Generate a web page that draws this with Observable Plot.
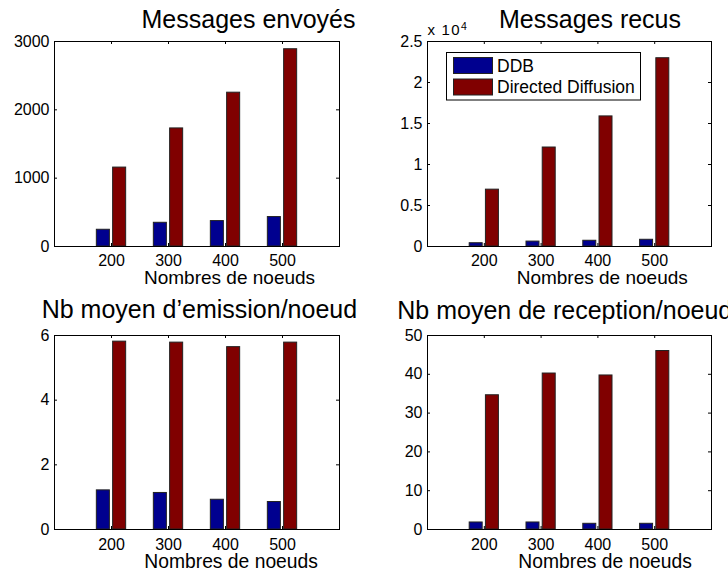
<!DOCTYPE html>
<html><head><meta charset="utf-8">
<script src="https://cdn.jsdelivr.net/npm/d3@7"></script>
<script src="https://cdn.jsdelivr.net/npm/@observablehq/plot@0.6"></script>
<style>
body{margin:0;background:#fff;}
#fig{position:relative;width:728px;height:574px;overflow:hidden;font-family:"Liberation Sans",Arial,Helvetica,sans-serif;background:#fff;}
#fig > svg{position:absolute;}
</style></head><body><div id="fig"></div>
<script>
// ---- data ----
const nodes = [200, 300, 400, 500];
const seriesNames = ["DDB", "Directed Diffusion"];
const colors = ["#00008F", "#800000"];
const sentDDB = [245, 347, 372, 431];
const sentDD = [1155, 1728, 2251, 2887];
const recvDDB = [400, 600, 700, 820];
const recvDD = [6933, 12072, 15865, 22961];
const emitDDB = [1.21, 1.13, 0.92, 0.85];
const emitDD = [5.81, 5.78, 5.64, 5.78];
const recpDDB = [1.81, 1.81, 1.47, 1.47];
const recpDD = [34.6, 40.2, 39.7, 46.0];
const titles = ["Messages envoyés", "Messages recus", "Nb moyen d\u2019emission/noeud", "Nb moyen de reception/noeud"];
const xLabel = "Nombres de noeuds";
const yTicks1 = [0, 1000, 2000, 3000];
const yTicks2 = [0, 5000, 10000, 15000, 20000, 25000];
const yTickLabels2 = ["0", "0.5", "1", "1.5", "2", "2.5"];
const yTicks3 = [0, 2, 4, 6];
const yTicks4 = [0, 10, 20, 30, 40, 50];
const exponentLabel = "x 10";
const exponentPower = "4";

// MATLAB grouped-bar geometry (2 series)
const nodeStep = 100;
const groupWidth = Math.min(0.8, 2 / (2 + 1.5));
const barWidth = groupWidth / 2 * 0.8;
const font = "'Liberation Sans', Arial, Helvetica, sans-serif";

const fig = document.getElementById("fig");

function panel({left, top, width, height, mt, mr, mb, ml, a, b, yMax, yTicks, yFormat, tickPad}) {
  const data = nodes.flatMap((n, i) => [
    {n, s: 0, v: a[i]},
    {n, s: 1, v: b[i]}
  ]);
  const fh = height - mt - mb, fw = width - ml - mr;
  const center = d => d.n + nodeStep * (d.s - 0.5) * groupWidth / 2;
  const p = Plot.plot({
    width, height,
    marginTop: mt, marginRight: mr, marginBottom: mb, marginLeft: ml,
    style: {fontFamily: font, fontSize: "16px", color: "black", background: "white"},
    x: {type: "linear", domain: [nodes[0] - nodeStep, nodes[nodes.length - 1] + nodeStep]},
    y: {type: "linear", domain: [0, yMax]},
    marks: [
      Plot.rect(data, {
        x1: d => center(d) - nodeStep * barWidth / 2,
        x2: d => center(d) + nodeStep * barWidth / 2,
        y1: 0, y2: "v",
        fill: d => colors[d.s], stroke: "#222", strokeWidth: 1
      }),
      Plot.frame({stroke: "black", strokeWidth: 1}),
      Plot.tickX(nodes, {x: d => d, insetTop: fh - 3, stroke: "black"}),
      Plot.tickX(nodes, {x: d => d, insetBottom: fh - 3, stroke: "black"}),
      Plot.tickY(yTicks, {y: d => d, insetLeft: fw - 3, stroke: "black"}),
      Plot.tickY(yTicks, {y: d => d, insetRight: fw - 3, stroke: "black"}),
      Plot.axisX(nodes, {tickSize: 0, tickPadding: tickPad, label: null, fontSize: 16, fill: "black"}),
      Plot.axisY(yTicks, {tickSize: 0, tickPadding: 5, label: null, tickFormat: yFormat, fontSize: 16, fill: "black"})
    ]
  });
  p.style.left = left + "px";
  p.style.top = top + "px";
  fig.appendChild(p);
}

const fmt = d => String(d);
panel({left: 0, top: 0, width: 364, height: 287, mt: 41, mr: 25, mb: 41, ml: 54, a: sentDDB, b: sentDD, yMax: 3000, yTicks: yTicks1, yFormat: fmt, tickPad: 8});
panel({left: 364, top: 0, width: 364, height: 287, mt: 41, mr: 17, mb: 41, ml: 63, a: recvDDB, b: recvDD, yMax: 25000, yTicks: yTicks2, yFormat: d => yTickLabels2[yTicks2.indexOf(d)], tickPad: 8});
panel({left: 0, top: 287, width: 364, height: 287, mt: 48, mr: 25, mb: 45, ml: 54, a: emitDDB, b: emitDD, yMax: 6, yTicks: yTicks3, yFormat: fmt, tickPad: 9});
panel({left: 364, top: 287, width: 364, height: 287, mt: 48, mr: 17, mb: 45, ml: 63, a: recpDDB, b: recpDD, yMax: 50, yTicks: yTicks4, yFormat: fmt, tickPad: 9});

// ---- overlay: titles, axis labels, legend, exponent ----
const svg = d3.select(fig).append("svg")
  .attr("width", 728).attr("height", 574)
  .style("left", "0px").style("top", "0px")
  .style("font-family", font).style("pointer-events", "none");

const titlePos = [[141.5, 28.3], [499, 28.3], [41.7, 318.3], [397.3, 318.5]];
titles.forEach((t, i) => svg.append("text").attr("x", titlePos[i][0]).attr("y", titlePos[i][1])
  .attr("font-size", 25).attr("fill", "black").text(t));

const xlabPos = [[144, 283.6, 19], [516.7, 283.6, 19], [144.3, 568, 19.3], [518.3, 568, 19.3]];
xlabPos.forEach(([x, y, s]) => svg.append("text").attr("x", x).attr("y", y)
  .attr("font-size", s).attr("fill", "black").text(xLabel));

svg.append("text").attr("x", 427.5).attr("y", 35).attr("font-size", 15)
  .attr("textLength", 32).attr("lengthAdjust", "spacing").attr("fill", "black").text(exponentLabel);
svg.append("text").attr("x", 461).attr("y", 30).attr("font-size", 10.5).attr("fill", "black").text(exponentPower);

const lg = svg.append("g");
lg.append("rect").attr("x", 446.5).attr("y", 52.5).attr("width", 194).attr("height", 47.5)
  .attr("fill", "white").attr("stroke", "black");
seriesNames.forEach((name, i) => {
  const y0 = 57.5 + i * 21.5;
  lg.append("rect").attr("x", 453.5).attr("y", y0).attr("width", 39).attr("height", 16)
    .attr("fill", colors[i]).attr("stroke", "#222");
  lg.append("text").attr("x", 497).attr("y", y0 + 14.3).attr("font-size", 17.5).attr("fill", "black").text(name);
});
</script>
</body></html>
